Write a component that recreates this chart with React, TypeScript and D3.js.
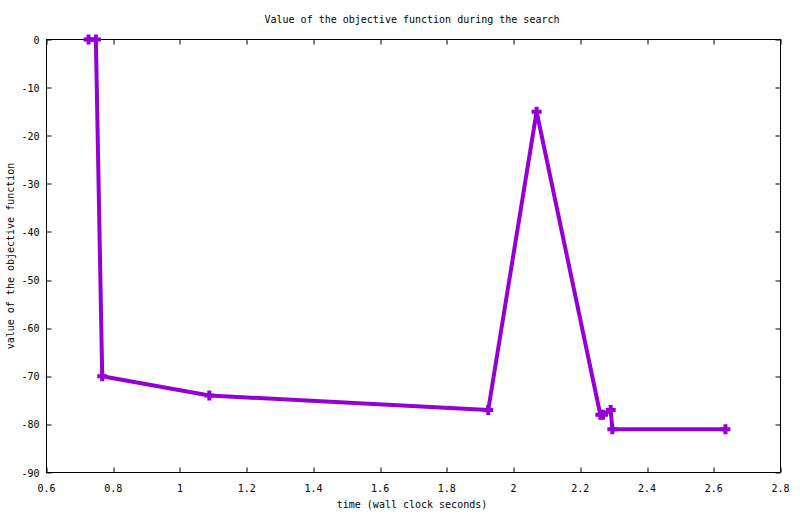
import { useRef, useEffect } from "react";
import * as d3 from "d3";

const times = [0.726, 0.748, 0.767, 1.088, 1.924, 2.069, 2.26, 2.268, 2.291, 2.296, 2.635];
const values = [0, 0, -70, -74, -77, -15, -78, -78, -77, -81, -81];
const xTicks = [0.6, 0.8, 1, 1.2, 1.4, 1.6, 1.8, 2, 2.2, 2.4, 2.6, 2.8];
const yTicks = [0, -10, -20, -30, -40, -50, -60, -70, -80, -90];

const COLOR = "#9400d3";
const FONT = "'DejaVu Sans Mono', monospace";

export default function App() {
  const ref = useRef<SVGSVGElement>(null);

  useEffect(() => {
    if (!ref.current) return;
    const W = 800;
    const H = 514;
    const margin = { top: 39.5, right: 19.5, bottom: 41.5, left: 46.5 };
    const w = W - margin.left - margin.right;
    const h = H - margin.top - margin.bottom;

    const svg = d3.select(ref.current);
    svg.selectAll("*").remove();

    const x = d3.scaleLinear().domain([0.6, 2.8]).range([0, w]);
    const y = d3.scaleLinear().domain([-90, 0]).range([h, 0]);

    // Title
    svg.append("text").attr("x", 412).attr("y", 23).attr("text-anchor", "middle")
      .attr("font-family", FONT).attr("font-size", 10).attr("fill", "#000")
      .text("Value of the objective function during the search");

    const g = svg.append("g").attr("transform", `translate(${margin.left},${margin.top})`);

    // Frame
    g.append("rect").attr("width", w).attr("height", h)
      .attr("fill", "none").attr("stroke", "#000").attr("stroke-width", 1);

    const tl = 5;
    // X ticks (bottom and mirrored top)
    xTicks.forEach((t) => {
      const px = Math.round(x(t)) + 0.5;
      g.append("line").attr("x1", px).attr("x2", px).attr("y1", h).attr("y2", h - tl).attr("stroke", "#000");
      g.append("line").attr("x1", px).attr("x2", px).attr("y1", 0).attr("y2", tl).attr("stroke", "#000");
      g.append("text").attr("x", x(t)).attr("y", h + 19).attr("text-anchor", "middle")
        .attr("font-family", FONT).attr("font-size", 10).text(String(t));
    });

    // Y ticks (left and mirrored right)
    yTicks.forEach((t) => {
      const py = Math.round(y(t)) + 0.5;
      g.append("line").attr("x1", 0).attr("x2", tl).attr("y1", py).attr("y2", py).attr("stroke", "#000");
      g.append("line").attr("x1", w).attr("x2", w - tl).attr("y1", py).attr("y2", py).attr("stroke", "#000");
      g.append("text").attr("x", -7).attr("y", y(t) + 4).attr("text-anchor", "end")
        .attr("font-family", FONT).attr("font-size", 10).text(String(t));
    });

    // Axis labels
    svg.append("text").attr("x", 412).attr("y", 508).attr("text-anchor", "middle")
      .attr("font-family", FONT).attr("font-size", 10).text("time (wall clock seconds)");
    svg.append("text").attr("transform", "rotate(-90)").attr("x", -(margin.top + h / 2)).attr("y", 14)
      .attr("text-anchor", "middle").attr("font-family", FONT).attr("font-size", 10)
      .text("value of the objective function");

    // Series
    const pts = times.map((t, i) => [t, values[i]] as [number, number]);
    const line = d3.line<[number, number]>().x((d) => x(d[0])).y((d) => y(d[1]));
    g.append("path").attr("d", line(pts)).attr("fill", "none")
      .attr("stroke", COLOR).attr("stroke-width", 4).attr("stroke-linejoin", "round");

    const s = 5;
    pts.forEach((d) => {
      const cx = x(d[0]);
      const cy = y(d[1]);
      g.append("path")
        .attr("d", `M${cx - s},${cy}H${cx + s}M${cx},${cy - s}V${cy + s}`)
        .attr("stroke", COLOR).attr("stroke-width", 4).attr("fill", "none");
    });
  }, []);

  return (
    <svg ref={ref} width={800} height={514}
      style={{ position: "absolute", left: 0, top: 0, background: "#fff", display: "block" }} />
  );
}
